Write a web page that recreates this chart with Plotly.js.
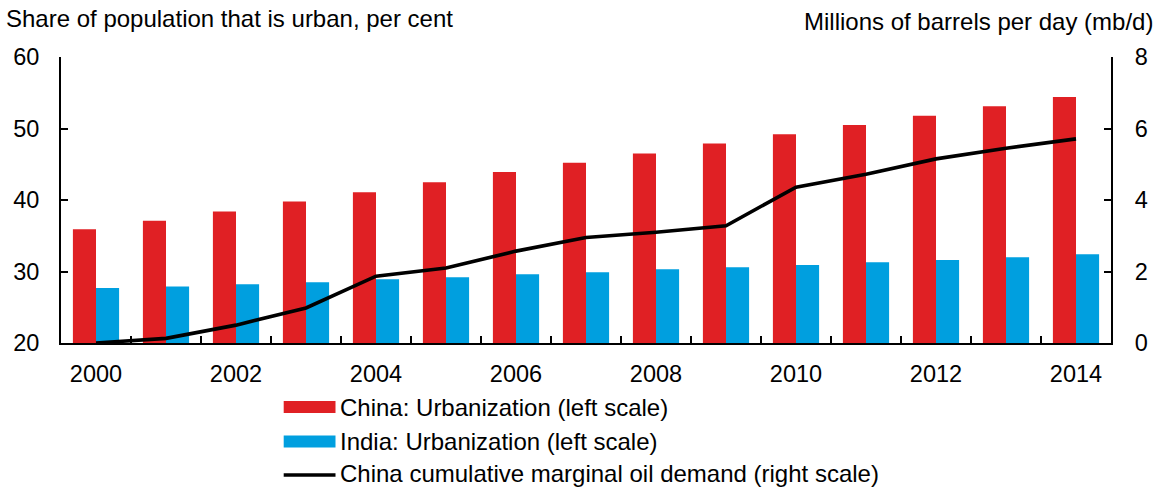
<!DOCTYPE html>
<html><head><meta charset="utf-8">
<script src="https://cdn.plot.ly/plotly-3.0.1.min.js"></script>
<style>body{margin:0;padding:0;background:#fff}#chart{width:1164px;height:488px}</style>
</head><body><div id="chart"></div>
<script>
const years = [2000,2001,2002,2003,2004,2005,2006,2007,2008,2009,2010,2011,2012,2013,2014];
const chinaUrban = [35.9,37.1,38.4,39.8,41.1,42.5,43.9,45.2,46.5,47.9,49.2,50.5,51.8,53.1,54.4];
const indiaUrban = [27.7,27.9,28.2,28.5,28.9,29.2,29.6,29.9,30.3,30.6,30.9,31.3,31.6,32.0,32.4];
const chinaOil = [0.0,0.13,0.5,0.98,1.87,2.1,2.57,2.95,3.1,3.28,4.36,4.72,5.15,5.45,5.71];
const xTickLabels = ['2000','2002','2004','2006','2008','2010','2012','2014'];
const legendLabels = ['China: Urbanization (left scale)','India: Urbanization (left scale)','China cumulative marginal oil demand (right scale)'];

const RED = '#E02024', BLUE = '#009FDF';
const W = 1164, H = 488, L = 61, R = 53, T = 57, B = 145;
const pw = W - L - R, ph = H - T - B;
const px = v => (v - L) / pw;
const py = v => (H - B - v) / ph;
const font = {family: 'Liberation Sans, Arial, sans-serif', size: 24, color: '#000'};
const tickFont = {family: 'Liberation Sans, Arial, sans-serif', size: 23.5, color: '#000'};

const traces = [
  {type:'bar', x: years, y: chinaUrban, name: legendLabels[0], marker:{color:RED}, yaxis:'y', showlegend:false, hoverinfo:'skip'},
  {type:'bar', x: years, y: indiaUrban, name: legendLabels[1], marker:{color:BLUE}, yaxis:'y', showlegend:false, hoverinfo:'skip'},
  {type:'scatter', mode:'lines', x: years, y: chinaOil, name: legendLabels[2], line:{color:'#000', width:3.6}, yaxis:'y2', showlegend:false, hoverinfo:'skip'},
  {type:'scatter', mode:'lines', x: years, y: chinaOil, xaxis:'x2', yaxis:'y2', line:{width:0}, opacity:0, showlegend:false, hoverinfo:'skip'}
];

const boundaryTicks = years.slice(0, -1).map(y => y + 0.5);

const shapes = [];
const annotations = [
  {xref:'paper', yref:'paper', x: px(4), y: py(19), xanchor:'left', yanchor:'middle', text:'Share of population that is urban, per cent', showarrow:false, font},
  {xref:'paper', yref:'paper', x: px(1155), y: py(21), xanchor:'right', yanchor:'middle', text:'Millions of barrels per day (mb/d)', showarrow:false, font}
];
const legY = [407, 441.5, 474];
const legColors = [RED, BLUE, '#000'];
legendLabels.forEach((lab, i) => {
  if (i < 2) {
    shapes.push({type:'rect', xref:'paper', yref:'paper', x0: px(283.7), x1: px(335.5), y0: py(legY[i]-6), y1: py(legY[i]+6), fillcolor: legColors[i], line:{width:0}});
  } else {
    shapes.push({type:'line', xref:'paper', yref:'paper', x0: px(283.7), x1: px(335.5), y0: py(legY[i]+1), y1: py(legY[i]+1), line:{color:'#000', width:3.6}});
  }
  annotations.push({xref:'paper', yref:'paper', x: px(339), y: py(legY[i]), xanchor:'left', yanchor:'middle', text: lab, showarrow:false, font, borderpad:0});
});

const layout = {
  width: W, height: H,
  margin: {l: L, r: R, t: T, b: B, pad: 0},
  paper_bgcolor: '#fff', plot_bgcolor: '#fff',
  font,
  barmode: 'group', bargap: 0.34, bargroupgap: 0,
  showlegend: false,
  xaxis: {
    type:'linear', range:[1999.5, 2014.5], tickmode:'array',
    tickvals: xTickLabels.map(Number), ticktext: xTickLabels,
    ticks:'', showgrid:false, zeroline:false,
    showline:true, linecolor:'#000', linewidth:2,
    tickfont: tickFont, ticklabelstandoff: 9
  },
  xaxis2: {
    type:'linear', range:[1999.5, 2014.5], overlaying:'x', anchor:'y',
    tickmode:'array', tickvals: boundaryTicks, showticklabels:false,
    ticks:'inside', ticklen:7, tickwidth:2, tickcolor:'#000',
    showgrid:false, zeroline:false, showline:false
  },
  yaxis: {
    range:[20, 60], dtick:10, tick0:20, ticks:'inside', ticklen:7, tickwidth:2, tickcolor:'#000',
    showgrid:false, zeroline:false, showline:true, linecolor:'#000', linewidth:2,
    tickfont: tickFont, ticklabelstandoff: 15
  },
  yaxis2: {
    range:[0, 8], dtick:2, tick0:0, overlaying:'y', side:'right',
    ticks:'inside', ticklen:7, tickwidth:2, tickcolor:'#000',
    showgrid:false, zeroline:false, showline:true, linecolor:'#000', linewidth:2,
    tickfont: tickFont, ticklabelstandoff: 17
  },
  shapes, annotations
};

Plotly.newPlot('chart', traces, layout, {staticPlot:true, displayModeBar:false});
</script>
</body></html>
